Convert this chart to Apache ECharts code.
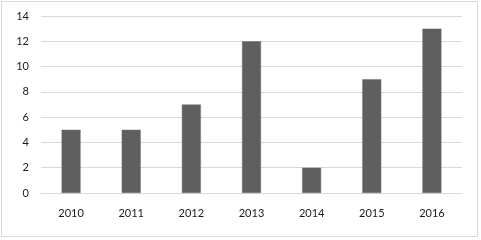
<!DOCTYPE html>
<html><head><meta charset="utf-8">
<script src="https://cdn.jsdelivr.net/npm/echarts@6/dist/echarts.min.js"></script>
<style>html,body{margin:0;padding:0;background:#fff}#c{width:481px;height:240px}</style>
</head><body><div id="c"></div>
<script>
const categories = ['2010','2011','2012','2013','2014','2015','2016'];
const values = [5,5,7,12,2,9,13];
const chart = echarts.init(document.getElementById('c'), null, {renderer:'canvas'});
chart.setOption({
  animation:false,
  backgroundColor:'#fff',
  graphic:[{type:'rect',shape:{x:1.5,y:1.5,width:476,height:235},style:{fill:'none',stroke:'#d9d9d9',lineWidth:1}}],
  grid:{left:41,right:19,top:16,bottom:47},
  xAxis:{type:'category',data:categories,
    axisLine:{show:true,lineStyle:{color:'#d9d9d9'}},axisTick:{show:false},
    axisLabel:{color:'#1a1a1a',fontSize:11,fontFamily:'Lato',margin:15}},
  yAxis:{type:'value',min:0,max:14,interval:2,
    axisLine:{show:false},axisTick:{show:false},
    splitLine:{lineStyle:{color:'#d9d9d9',width:1}},
    axisLabel:{color:'#1a1a1a',fontSize:11,fontFamily:'Lato',margin:12}},
  series:[{type:'bar',data:values,barWidth:19,
    itemStyle:{color:'#5f5f5f',borderColor:'#707070',borderWidth:0.5}}]
});
</script></body></html>
